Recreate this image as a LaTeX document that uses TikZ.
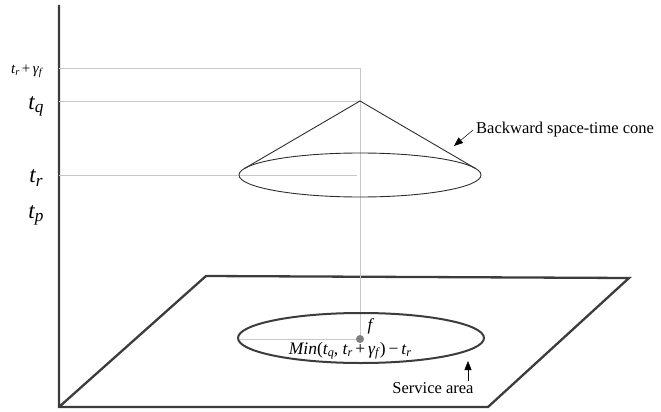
\documentclass[tikz,border=0pt]{standalone}
\usepackage{fontspec}
\setmainfont{Liberation Serif}
\usetikzlibrary{arrows.meta}
\definecolor{axisgray}{HTML}{3C3C3C}
\definecolor{guidegray}{HTML}{C8C8C8}
\definecolor{conegray}{HTML}{2E2E2E}
\definecolor{dotgray}{HTML}{808080}
\newcommand\tsb[3][0.7]{\textit{#2}\kern-0.3pt\raisebox{-0.3ex}{\scalebox{#1}{\textit{#3}}}}
\begin{document}
\begin{tikzpicture}[x=1pt,y=-1pt,
  frame/.style={draw=axisgray, line width=2.3pt, line join=miter},
  guide/.style={draw=guidegray, line width=0.8pt},
  cone/.style={draw=conegray, line width=0.9pt},
  sarea/.style={draw=axisgray, line width=2pt},
  arr/.style={draw=black, line width=0.5pt, -{Triangle[length=9pt,width=7pt]}},
  lbl/.style={inner sep=0pt, font=\fontsize{16.5}{18}\selectfont},
  axlbl/.style={inner sep=0pt, font=\fontsize{23}{25}\selectfont}]
\useasboundingbox (0,0) rectangle (661,412);
% axes and plane
\coordinate (top) at (59,5);
\coordinate (origin) at (59,407);
\coordinate (pbr) at (488,407);
\coordinate (ptr) at (629,278);
\coordinate (ptl) at (206,276);
\draw[frame] (top) -- (origin) -- (pbr) -- (ptr) -- (ptl) -- (origin);
% guide lines
\coordinate (gy) at (59,68);
\coordinate (gq) at (59,101);
\coordinate (gr) at (59,175);
\coordinate (gtop) at (360,68);
\coordinate (apex) at (360,101);
\coordinate (rend) at (357,175);
\coordinate (f) at (360,339);
\coordinate (sleft) at (240,339);
\draw[guide] (gy) -- (gtop) -- (f);
\draw[guide] (gq) -- (apex);
\draw[guide] (gr) -- (rend);
\draw[guide] (sleft) -- (f);
% cone
\draw[cone] (360,175) ellipse [x radius=121, y radius=22];
\coordinate (tl) at (244.5,168.5);
\coordinate (tr) at (475.5,168.5);
\draw[cone] (tl) -- (apex) -- (tr);
% service area
\draw[sarea] (361,338) ellipse [x radius=123, y radius=25];
\fill[dotgray] (f) circle (4);
% labels
\node[inner sep=0pt, font=\fontsize{15}{17}\selectfont] (lgam) at (27,71) {\tsb{t}{r}\,+\,\tsb{γ}{f}};
\node[axlbl] (ltq) at (36,106) {\tsb[0.75]{t}{q}};
\node[axlbl] (ltr) at (36,178) {\tsb[0.75]{t}{r}};
\node[axlbl] (ltp) at (36,215) {\tsb[0.75]{t}{p}};
\node[inner sep=0pt, font=\fontsize{17}{19}\selectfont] (lf) at (371,326) {\textit{f}};
\node[inner sep=0pt, font=\fontsize{17.5}{19}\selectfont] (lmin) at (350,351) {\textit{Min}(\tsb{t}{q}, \tsb{t}{r}\,+\,\tsb{γ}{f})\,−\,\tsb{t}{r}};
\node[lbl, anchor=west] (lcone) at (476,130) {Backward space-time cone};
\node[lbl] (lsa) at (433,388) {Service area};
% arrows
\coordinate (conetip) at (454,146);
\draw[arr] (lcone.west) ++(-3,0) coordinate (conetail) (conetail) -- (conetip);
\coordinate (satail) at (468,381);
\coordinate (satip) at (468,361);
\draw[arr] (satail) -- (satip);
\end{tikzpicture}
\end{document}
